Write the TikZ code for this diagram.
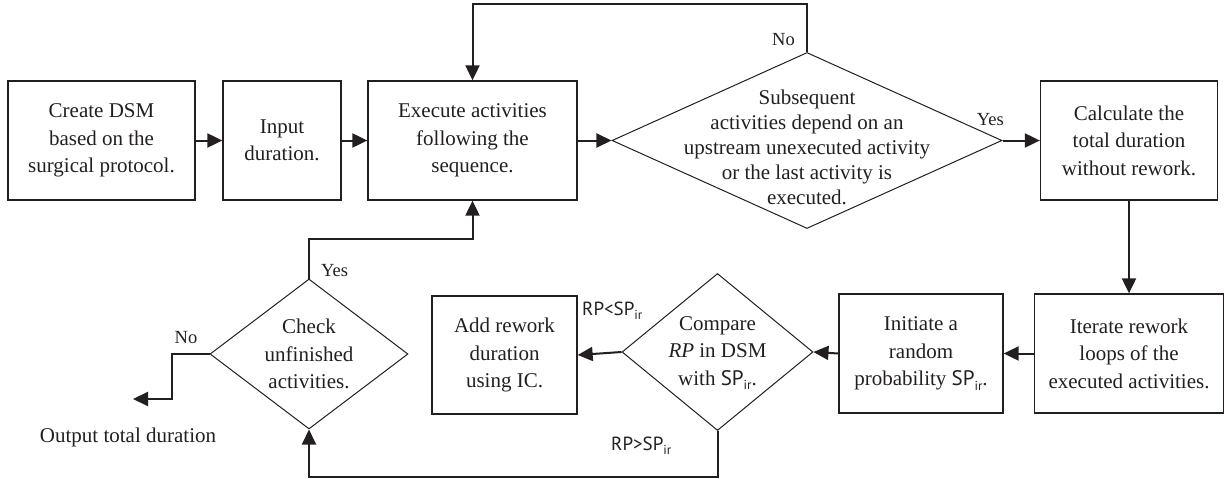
\documentclass[tikz,border=0pt]{standalone}
\usepackage{fontspec}
\setmainfont{Liberation Serif}
\newfontfamily\labelsans{PT Sans}
\usetikzlibrary{shapes.geometric,arrows.meta}
\definecolor{ink}{HTML}{231F20}
\newcommand{\mysub}[1]{\raisebox{-0.22em}{\fontsize{13}{13}\selectfont #1}}
\newcommand{\SPir}{{\labelsans SP\mysub{ir}}}
\begin{document}
\begin{tikzpicture}[x=1pt,y=-1pt,
  box/.style={draw=ink, line width=1.3pt, text=ink, align=center, inner sep=0pt,
    minimum height=119pt, font=\fontsize{21}{27.5}\selectfont},
  dia/.style={diamond, draw=ink, line width=1pt, inner sep=0pt},
  txt/.style={text=ink, align=center, inner sep=0pt, font=\fontsize{21}{27.5}\selectfont},
  conn/.style={draw=ink, line width=2pt, -{Triangle[length=15pt,width=14pt]}},
  lbl/.style={text=ink, inner sep=0pt, font=\fontsize{18.5}{18.5}\selectfont},
  slbl/.style={text=ink, inner sep=0pt, font=\labelsans\fontsize{19}{19}\selectfont}
]
\useasboundingbox (0,0) rectangle (1224,479);
% row 1
\node[box, minimum width=187pt] (A) at (101.5,140.5) {Create DSM\\based on the\\surgical protocol.};
\node[box, minimum width=118pt] (B) at (282,140.5) {Input\\duration.};
\node[box, minimum width=209pt] (C) at (472.5,140.5) {Execute activities\\following the\\sequence.};
\node[dia, minimum width=390pt, minimum height=176pt] (d1) at (807,140.5) {};
\node[txt, font=\fontsize{21}{25}\selectfont] (d1t) at (807,147) {Subsequent\\activities depend on an\\upstream unexecuted activity\\or the last activity is\\executed.};
\node[box, minimum width=177pt] (D) at (1129,140.5) {Calculate the\\total duration\\without rework.};
% row 2
\node[box, minimum width=189pt] (E) at (1129,353.5) {Iterate rework\\loops of the\\executed activities.};
\node[box, minimum width=164pt] (F) at (921,353.5) {Initiate a\\random\\probability \SPir.};
\node[dia, minimum width=191pt, minimum height=157pt] (d2) at (717.5,352) {};
\node[txt] (d2t) at (717.5,353) {Compare\\\textit{RP} in DSM\\with \SPir.};
\node[box, minimum width=145pt, minimum height=118pt] (G) at (504.5,355) {Add rework\\duration\\using IC.};
\node[dia, minimum width=198pt, minimum height=150pt] (H) at (309,354) {};
\node[txt] (Ht) at (309,354) {Check\\unfinished\\activities.};
\node[txt] (out) at (128,437) {Output total duration};
% helper coordinates
\coordinate (top) at (0,4);
\coordinate (mid) at (0,238.5);
\coordinate (bot) at (0,476.5);
\coordinate (nobend) at (172,399);
\coordinate (outtip) at (133,399);
% connectors
\draw[conn] (A) -- (B);
\draw[conn] (B) -- (C);
\draw[conn] (C) -- (d1);
\draw[conn] (d1.north) -- (d1.north |- top) -- (C.north |- top) -- (C.north);
\draw[conn] (d1) -- (D);
\draw[conn] (D) -- (E);
\draw[conn] (E) -- (F);
\draw[conn] (F.west) -- (d2.east);
\draw[conn] (d2.west) -- (G.east);
\draw[conn] (d2.south) -- (d2.south |- bot) -- (H.south |- bot) -- (H.south);
\draw[conn] (H.north) -- (H.north |- mid) -- (C.south |- mid) -- (C.south);
\draw[conn] (H.west) -| (nobend) -- (outtip);
% labels
\node[lbl, anchor=east] (l1) at (795,40) {No};
\node[lbl, anchor=east] (l2) at (1004,120) {Yes};
\node[lbl, anchor=west] (l3) at (321,271) {Yes};
\node[lbl] (l4) at (186,338) {No};
\node[slbl, anchor=west] (l5) at (582,311) {RP<SP\mysub{ir}};
\node[slbl, anchor=west] (l6) at (611,446) {RP>SP\mysub{ir}};
\end{tikzpicture}
\end{document}
